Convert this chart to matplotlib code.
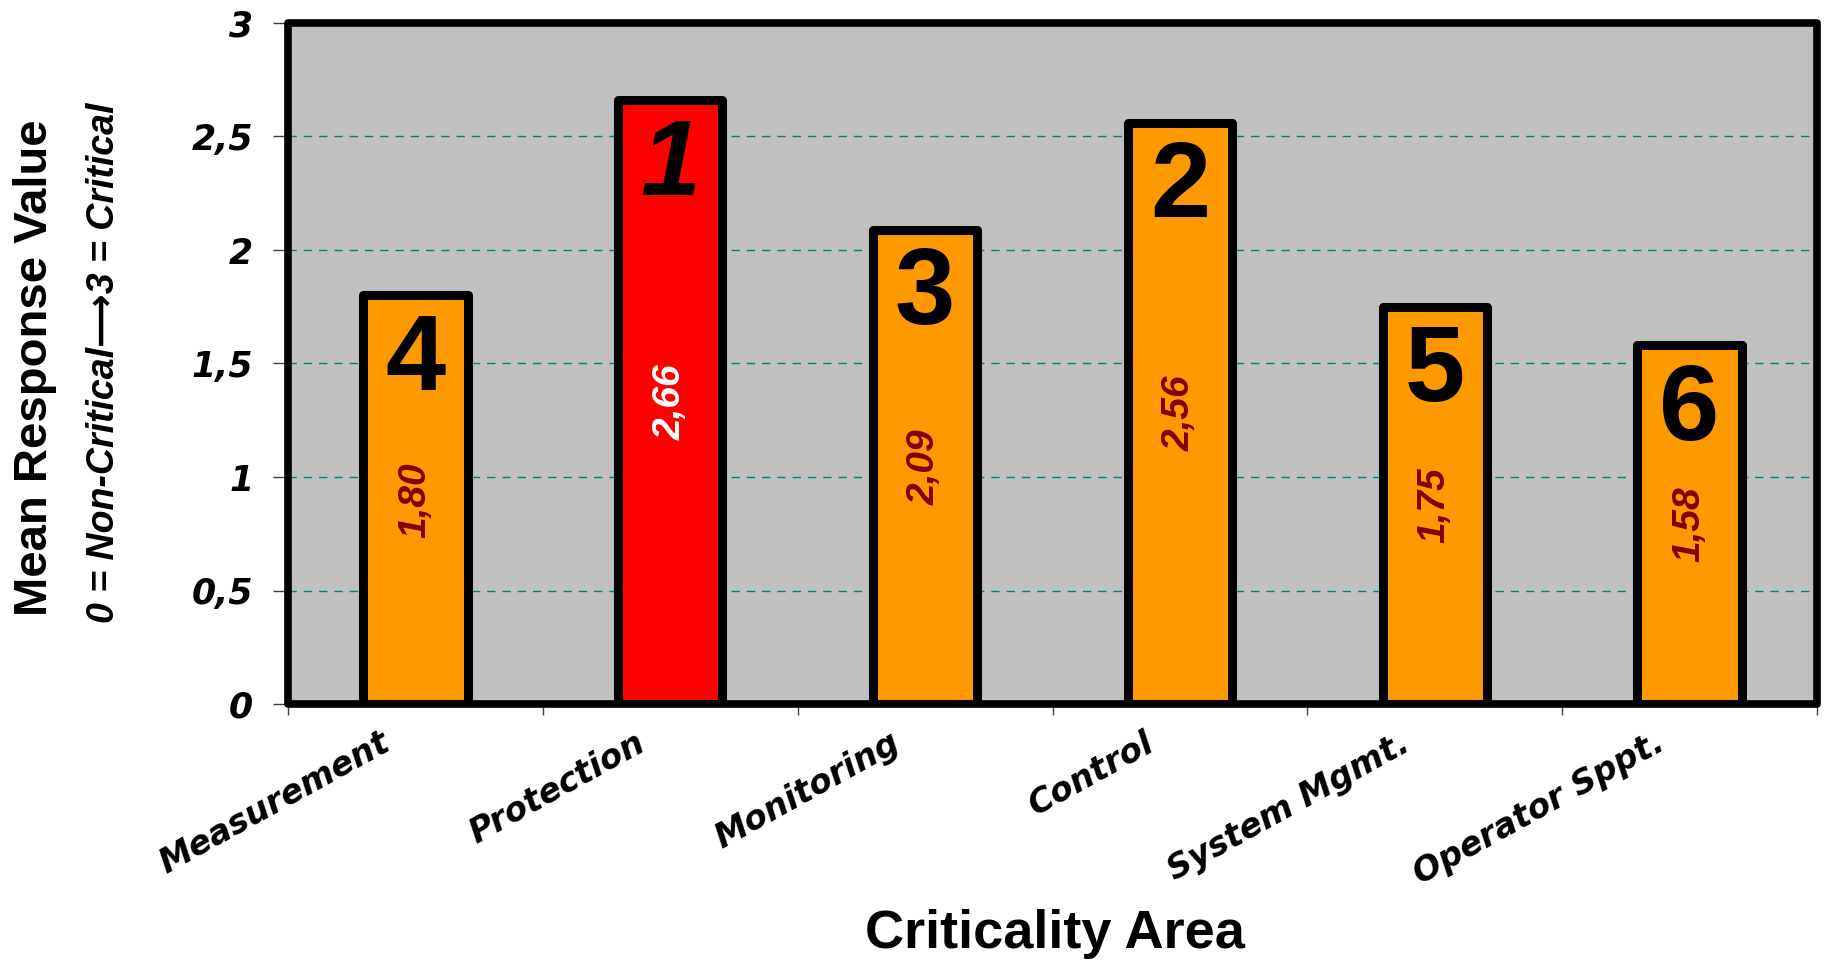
import matplotlib
matplotlib.use("Agg")
import numpy as np
from matplotlib import pyplot as plt
from matplotlib.patches import Rectangle
from matplotlib.transforms import ScaledTranslation

categories = ["Measurement", "Protection", "Monitoring", "Control",
              "System Mgmt.", "Operator Sppt."]
means = [1.80, 2.66, 2.09, 2.56, 1.75, 1.58]
ranks = [4, 1, 3, 2, 5, 6]
yticks = [0, 0.5, 1, 1.5, 2, 2.5, 3]

orange = "#FF9900"
red = "#FF0000"
panel_gray = "#C0C0C0"
grid_teal = "#008080"
label_red = "#800000"

wide_font = "DejaVu Sans"
arial = ["Liberation Sans", "DejaVu Sans"]

fig = plt.figure(figsize=(18.28, 9.63), dpi=100)
ax = fig.add_axes([288 / 1828, 1 - 704 / 963, (1817 - 288) / 1828, (704 - 23) / 963])
ax.set_facecolor(panel_gray)

x = np.arange(len(categories))
colors = [red if r == 1 else orange for r in ranks]
ax.bar(x, means, width=0.41, color=colors, edgecolor="black", linewidth=6.5,
       joinstyle="round", zorder=3)

ax.set_xlim(-0.5, len(categories) - 0.5)
ax.set_ylim(0, 3)

# dashed horizontal grid behind the bars
ax.set_yticks(yticks)
ax.set_yticklabels([f"{t:g}".replace(".", ",") for t in yticks])
ax.yaxis.grid(True, color=grid_teal, linestyle=(0, (6, 5)), linewidth=1.0, zorder=1)
ax.set_axisbelow(True)

for s in ax.spines.values():
    s.set_visible(False)
ax.add_patch(Rectangle((0, 0), 1, 1, transform=ax.transAxes, fill=False,
                       edgecolor="black", linewidth=5.5, joinstyle="round",
                       clip_on=False, zorder=5))

ax.tick_params(axis="y", direction="out", length=11, width=1, color="#404040",
               pad=14, labelsize=25)
for lab in ax.get_yticklabels():
    lab.set_fontfamily(wide_font)
    lab.set_fontweight("bold")
    lab.set_fontstyle("italic")

# category ticks sit on the boundaries, labels in the middle
ax.set_xticks(x)
ax.set_xticks(np.arange(len(categories) + 1) - 0.5, minor=True)
ax.tick_params(axis="x", which="major", length=0, pad=16)
ax.tick_params(axis="x", which="minor", direction="out", length=8, width=1,
               color="#404040")
ax.set_xticklabels(categories, rotation=29, ha="right", va="top",
                   rotation_mode="anchor", fontsize=24, fontfamily=wide_font,
                   fontweight="bold", fontstyle="italic")
shift = ScaledTranslation(-36 / 100, 0, fig.dpi_scale_trans)
for lab in ax.get_xticklabels():
    lab.set_transform(lab.get_transform() + shift)

for xi, v, r in zip(x, means, ranks):
    ax.annotate(str(r), (xi, v), xytext=(0, -68), textcoords="offset points",
                ha="center", va="baseline", fontsize=78, fontfamily=arial,
                fontweight="bold", fontstyle="italic" if r == 1 else "normal",
                color="black", zorder=6)
    ax.text(xi, v / 2, f"{v:.2f}".replace(".", ","), rotation=90,
            ha="center", va="center", fontsize=28, fontfamily=arial,
            fontweight="bold", fontstyle="italic",
            color="white" if r == 1 else label_red, zorder=6)

fig.text(35 / 1828, 1 - 368 / 963, "Mean Response Value", rotation=90,
         ha="center", va="center", fontsize=34, fontfamily=arial,
         fontweight="bold")
fig.text(104 / 1828, 1 - 363 / 963, "0 = Non-Critical\u27f63 = Critical",
         rotation=90, ha="center", va="center", fontsize=27, fontfamily=arial,
         fontweight="bold", fontstyle="italic")
fig.text(1055 / 1828, 1 - 948 / 963, "Criticality Area", ha="center",
         va="baseline", fontsize=39, fontfamily=arial, fontweight="bold")

fig.savefig("out.png", dpi=100, facecolor="white")
